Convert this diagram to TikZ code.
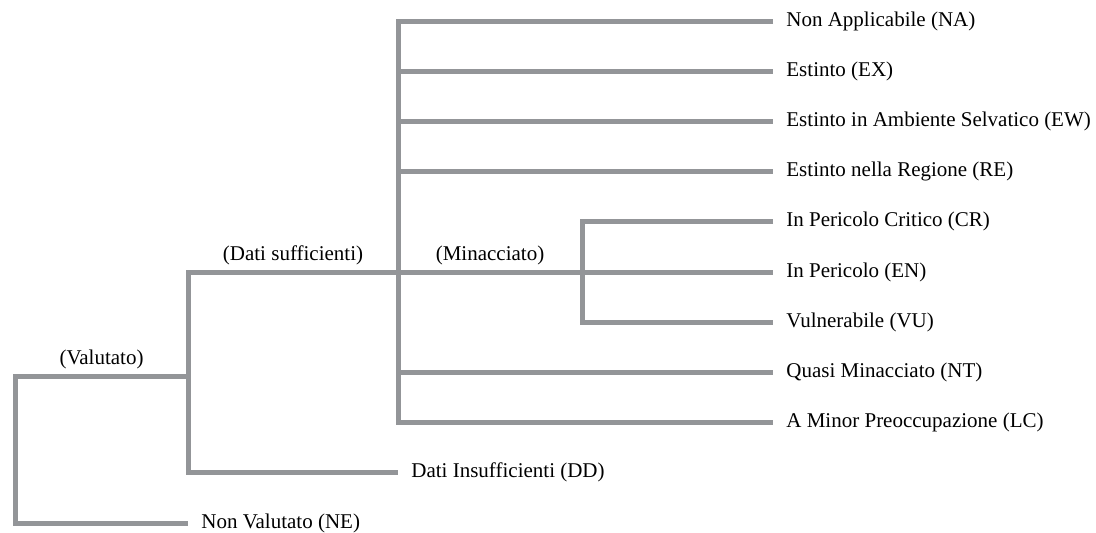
\documentclass[tikz,border=0pt]{standalone}
\usepackage{fontspec}
\setmainfont{Liberation Serif}
\usetikzlibrary{positioning}
\definecolor{branchgray}{HTML}{939598}
\begin{document}
\begin{tikzpicture}[x=0.5pt, y=-0.5pt,
    branch/.style={draw=branchgray, line width=2.5pt, line join=miter},
    leaf/.style={anchor=west, inner sep=0pt, font=\fontsize{10.5}{12}\selectfont},
    tag/.style={above=2.2pt, inner sep=0pt, font=\fontsize{10.5}{12}\selectfont}]
    \def\ytop{21};
    \def\dy{50.2};
    \def\xa{15};
    \def\xb{188};
    \def\xc{398};
    \def\xd{582};
    \def\xe{773};

    \useasboundingbox (0, 0) rectangle (1096, 532);

% leaves on the right
    \foreach \name/\row/\txt in {na/0/Non Applicabile (NA), ex/1/Estinto (EX),
        ew/2/Estinto in Ambiente Selvatico (EW), re/3/Estinto nella Regione (RE),
        cr/4/In Pericolo Critico (CR), en/5/In Pericolo (EN), vu/6/Vulnerabile (VU),
        nt/7/Quasi Minacciato (NT), lc/8/A Minor Preoccupazione (LC)} {
        \coordinate (\name-end) at (\xe, \ytop + \row * \dy);
        \node[leaf, right=6.5pt of \name-end] (\name) {\txt};
    }

% leaves on the left
    \coordinate (dd-end) at (\xc, \ytop + 9 * \dy);
    \node[leaf, right=6.5pt of dd-end] (dd) {Dati Insufficienti (DD)};
    \coordinate (ne-end) at (\xb, \ytop + 10 * \dy);
    \node[leaf, right=6.5pt of ne-end] (ne) {Non Valutato (NE)};

% branch points
    \coordinate (root) at (\xa, 376);
    \coordinate (valued) at (\xb, 376);
    \coordinate (enough) at (\xc, \ytop + 5 * \dy);
    \coordinate (threat) at (\xd, \ytop + 5 * \dy);

% threatened group
    \draw[branch] (cr-end) -| (threat) |- (vu-end);
    \draw[branch] (enough) -- node[tag] (minac) {(Minacciato)} (threat) -- (en-end);

% enough data
    \draw[branch] (na-end) -| (enough) |- (lc-end);
    \foreach \name in {ex, ew, re, nt}
        \draw[branch] (enough |- \name-end) -- (\name-end);

% assessed
    \draw[branch] (enough) -- node[tag] (suff) {(Dati sufficienti)} (valued |- enough)
        -- (valued |- dd-end) -- (dd-end);

% root
    \draw[branch] (valued) -- node[tag] (valut) {(Valutato)} (root)
        -- (root |- ne-end) -- (ne-end);

\end{tikzpicture}
\end{document}
